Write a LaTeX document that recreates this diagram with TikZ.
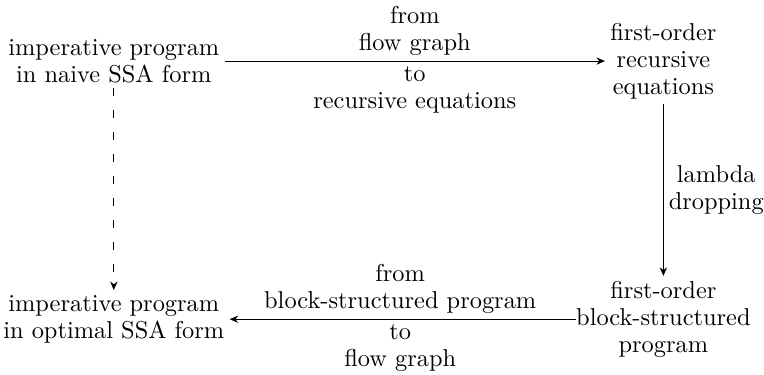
\documentclass[tikz,border=0pt]{standalone}
\usepackage{tikz}
\usetikzlibrary{arrows.meta}

\begin{document}
\begin{tikzpicture}[font={\fontsize{10}{11}\selectfont}, >={Stealth[length=3.5pt,width=3pt]},
    stage/.style={align=center, inner sep=2pt},
    lab/.style={align=center, inner sep=2pt}]
    \useasboundingbox (0,0) rectangle (11.01,5.39);
    \node[stage] (naive) at (1.64,4.51) {imperative program\\in naive SSA form};
    \node[stage] (receq) at (9.56,4.51) {first-order\\recursive\\equations};
    \node[stage] (block) at (9.56,0.79) {first-order\\block-structured\\program};
    \node[stage] (optim) at (1.64,0.79) {imperative program\\in optimal SSA form};
    \draw[->] (naive) -- node[lab, above]{from\\flow graph} node[lab, below]{to\\recursive equations} (receq);
    \draw[->] (receq) -- node[lab, right]{lambda\\dropping} (block);
    \draw[->, shorten <=-2pt] (block) -- node[lab, above]{from\\block-structured program} node[lab, below]{to\\flow graph} (optim);
    \draw[->, dash pattern=on 3.3pt off 5.7pt] (naive) -- (optim);
\end{tikzpicture}
\end{document}
